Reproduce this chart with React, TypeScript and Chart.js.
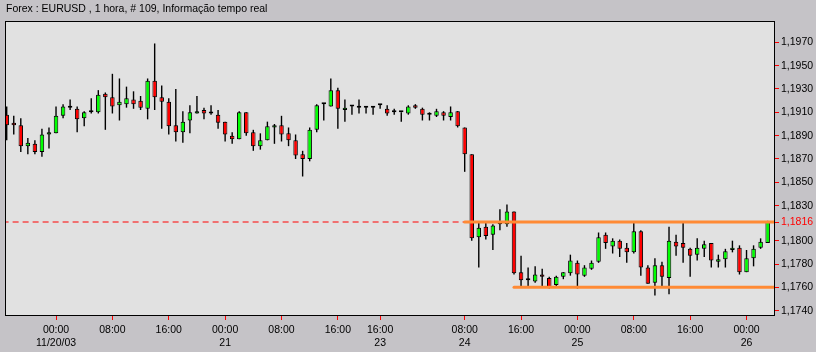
import React, { useEffect, useRef } from "react";
import { Chart, registerables } from "chart.js";

Chart.register(...registerables);

const TITLE = "Forex : EURUSD , 1 hora, # 109, Informação tempo real";

const OPEN = [
  1.1908, 1.1901, 1.1899, 1.1881, 1.1883, 1.1876, 1.1891, 1.1892, 1.1907, 1.1914,
  1.1913, 1.1905, 1.1910, 1.1910, 1.1926, 1.1923, 1.1916, 1.1917, 1.1921, 1.1920,
  1.1913, 1.1937, 1.1923, 1.1919, 1.1899, 1.1893, 1.1903, 1.1909, 1.1912, 1.1909,
  1.1908, 1.1902, 1.1890, 1.1887, 1.1910, 1.1893, 1.1881, 1.1886, 1.1897, 1.1899,
  1.1892, 1.1886, 1.1874, 1.1870, 1.1895, 1.1917, 1.1915, 1.1929, 1.1912, 1.1915,
  1.1914, 1.1915, 1.1915, 1.1916, 1.1913, 1.1910, 1.1910, 1.1909, 1.1916, 1.1913,
  1.1909, 1.1907, 1.1910, 1.1906, 1.1911, 1.1897, 1.1874, 1.1803, 1.1812, 1.1805,
  1.1814, 1.1814, 1.1825, 1.1773, 1.1766, 1.1765, 1.1771, 1.1768, 1.1762, 1.1769,
  1.1772, 1.1781, 1.1770, 1.1776, 1.1782, 1.1805, 1.1795, 1.1800, 1.1794, 1.1790,
  1.1808, 1.1777, 1.1764, 1.1779, 1.1768, 1.1799, 1.1798, 1.1793, 1.1788, 1.1793,
  1.1798, 1.1782, 1.1784, 1.1792, 1.1794, 1.1773, 1.1785, 1.1794, 1.1798,
];

const HIGH = [
  1.1915, 1.1907, 1.1905, 1.1888, 1.1886, 1.1896, 1.1897, 1.1915, 1.1917, 1.1921,
  1.1915, 1.1911, 1.1922, 1.1929, 1.1927, 1.1943, 1.1939, 1.1932, 1.1928, 1.1924,
  1.1939, 1.1969, 1.1933, 1.1922, 1.1930, 1.1911, 1.1916, 1.1924, 1.1914, 1.1916,
  1.1912, 1.1902, 1.1893, 1.1911, 1.1910, 1.1895, 1.1892, 1.1902, 1.1900, 1.1907,
  1.1897, 1.1891, 1.1877, 1.1897, 1.1917, 1.1918, 1.1939, 1.1931, 1.1921, 1.1916,
  1.1921, 1.1915, 1.1915, 1.1917, 1.1916, 1.1913, 1.1910, 1.1916, 1.1917, 1.1914,
  1.1910, 1.1913, 1.1911, 1.1915, 1.1911, 1.1897, 1.1874, 1.1816, 1.1816, 1.1814,
  1.1827, 1.1831, 1.1825, 1.1787, 1.1777, 1.1778, 1.1776, 1.1769, 1.1770, 1.1773,
  1.1788, 1.1783, 1.1779, 1.1783, 1.1807, 1.1807, 1.1802, 1.1801, 1.1798, 1.1816,
  1.1809, 1.1779, 1.1785, 1.1782, 1.1812, 1.1805, 1.1816, 1.1794, 1.1802, 1.1800,
  1.1798, 1.1788, 1.1793, 1.1800, 1.1796, 1.1792, 1.1796, 1.1802, 1.1817,
];

const LOW = [
  1.1886, 1.1891, 1.1876, 1.1874, 1.1874, 1.1872, 1.1879, 1.1892, 1.1905, 1.1912,
  1.1893, 1.1898, 1.1909, 1.1909, 1.1895, 1.1909, 1.1903, 1.1914, 1.1913, 1.1912,
  1.1904, 1.1912, 1.1896, 1.1891, 1.1885, 1.1884, 1.1892, 1.1909, 1.1904, 1.1908,
  1.1896, 1.1885, 1.1883, 1.1887, 1.1890, 1.1877, 1.1878, 1.1886, 1.1883, 1.1885,
  1.1881, 1.1870, 1.1855, 1.1868, 1.1893, 1.1903, 1.1915, 1.1896, 1.1902, 1.1908,
  1.1909, 1.1909, 1.1908, 1.1913, 1.1907, 1.1908, 1.1902, 1.1908, 1.1913, 1.1903,
  1.1903, 1.1906, 1.1903, 1.1903, 1.1897, 1.1859, 1.1800, 1.1777, 1.1801, 1.1792,
  1.1809, 1.1812, 1.1771, 1.1760, 1.1760, 1.1764, 1.1760, 1.1759, 1.1760, 1.1767,
  1.1770, 1.1759, 1.1769, 1.1775, 1.1781, 1.1793, 1.1789, 1.1786, 1.1781, 1.1789,
  1.1770, 1.1763, 1.1753, 1.1760, 1.1754, 1.1787, 1.1781, 1.1769, 1.1783, 1.1786,
  1.1777, 1.1777, 1.1777, 1.1790, 1.1771, 1.1773, 1.1778, 1.1793, 1.1798,
];

const CLOSE = [
  1.1899, 1.1899, 1.1881, 1.1884, 1.1876, 1.1891, 1.1893, 1.1907, 1.1915, 1.1915,
  1.1904, 1.1910, 1.1910, 1.1925, 1.1923, 1.1915, 1.1919, 1.1922, 1.1917, 1.1914,
  1.1937, 1.1923, 1.1919, 1.1898, 1.1893, 1.1902, 1.1910, 1.1911, 1.1909, 1.1909,
  1.1901, 1.1891, 1.1887, 1.1910, 1.1892, 1.1881, 1.1886, 1.1898, 1.1899, 1.1891,
  1.1886, 1.1873, 1.1870, 1.1895, 1.1916, 1.1917, 1.1929, 1.1913, 1.1914, 1.1915,
  1.1914, 1.1914, 1.1914, 1.1916, 1.1909, 1.1910, 1.1910, 1.1915, 1.1914, 1.1908,
  1.1908, 1.1911, 1.1907, 1.1910, 1.1898, 1.1874, 1.1802, 1.1811, 1.1804, 1.1813,
  1.1814, 1.1825, 1.1772, 1.1766, 1.1766, 1.1771, 1.1769, 1.1760, 1.1769, 1.1773,
  1.1783, 1.1771, 1.1777, 1.1781, 1.1803, 1.1798, 1.1800, 1.1793, 1.1790, 1.1808,
  1.1777, 1.1763, 1.1779, 1.1769, 1.1800, 1.1795, 1.1794, 1.1787, 1.1794, 1.1797,
  1.1783, 1.1784, 1.1791, 1.1794, 1.1773, 1.1785, 1.1793, 1.1799, 1.1816,
];

const X_TICK_INDEX = [7, 15, 23, 31, 39, 47, 53, 65, 73, 81, 89, 97, 105];
const X_TICK_TIME = ["00:00", "08:00", "16:00", "00:00", "08:00", "16:00", "16:00", "08:00", "16:00", "00:00", "08:00", "16:00", "00:00"];
const X_TICK_DATE = ["11/20/03", "", "", "21", "", "", "23", "24", "", "25", "", "", "26"];

const Y_TICKS = [1.174, 1.176, 1.178, 1.18, 1.183, 1.185, 1.187, 1.189, 1.191, 1.193, 1.195, 1.197];
const LAST_PRICE = 1.1816;
const RESISTANCE = 1.1816;
const RESISTANCE_FROM = 65;
const SUPPORT = 1.176;
const SUPPORT_FROM = 72;

const X_MIN = -0.1;
const X_MAX = 108.9;
const Y_MIN = 1.17363;
const Y_MAX = 1.19874;

const FONT = "'Liberation Sans', Arial, sans-serif";
const OUTER_BG = "#C5C3C7";
const PLOT_BG = "#E1E1E1";
const BULL = "#00FF00";
const BEAR = "#FF0000";
const ORANGE = "rgb(255,138,52)";

const framePlugin = {
  id: "framePlugin",
  beforeDraw(chart: any) {
    const { ctx, chartArea: a } = chart;
    ctx.save();
    ctx.fillStyle = OUTER_BG;
    ctx.fillRect(0, 0, chart.width, chart.height);
    ctx.fillStyle = PLOT_BG;
    ctx.fillRect(a.left, a.top, a.right - a.left, a.bottom - a.top);
    ctx.restore();
  },
  afterDraw(chart: any) {
    const { ctx, chartArea: a } = chart;
    ctx.save();
    ctx.strokeStyle = "#000";
    ctx.lineWidth = 1;
    ctx.strokeRect(a.left - 0.5, a.top - 0.5, a.right - a.left + 1, a.bottom - a.top + 1);
    ctx.restore();
  },
};

export default function App() {
  const ref = useRef<HTMLCanvasElement | null>(null);

  useEffect(() => {
    if (!ref.current) return;
    const n = OPEN.length;
    const idx = OPEN.map((_, i) => i);
    const bodies = idx.map((i) => ({ x: i, y: [Math.min(OPEN[i], CLOSE[i]), Math.max(OPEN[i], CLOSE[i])] }));
    const bodyColors = idx.map((i) => (CLOSE[i] >= OPEN[i] ? BULL : BEAR));
    const wicks = idx.map((i) => ({ x: i, y: [LOW[i], HIGH[i]] }));

    const chart = new Chart(ref.current, {
      type: "bar",
      data: {
        datasets: [
          {
            type: "line",
            data: [{ x: RESISTANCE_FROM, y: RESISTANCE }, { x: n + 2, y: RESISTANCE }],
            borderColor: ORANGE,
            borderWidth: 3,
            borderCapStyle: "round",
            pointRadius: 0,
            clip: 0,
          } as any,
          {
            type: "line",
            data: [{ x: SUPPORT_FROM, y: SUPPORT }, { x: n + 2, y: SUPPORT }],
            borderColor: ORANGE,
            borderWidth: 3,
            borderCapStyle: "round",
            pointRadius: 0,
            clip: 0,
          } as any,
          {
            data: bodies,
            backgroundColor: bodyColors,
            borderColor: "#000",
            borderWidth: 1,
            borderSkipped: false,
            barThickness: 4.5,
            minBarLength: 2,
            grouped: false,
            inflateAmount: 0,
            clip: 0,
          } as any,
          {
            data: wicks,
            backgroundColor: "#000",
            borderWidth: 0,
            barThickness: 1.4,
            grouped: false,
            inflateAmount: 0,
            clip: 0,
          } as any,
          {
            type: "line",
            data: [{ x: -2, y: LAST_PRICE }, { x: n + 2, y: LAST_PRICE }],
            borderColor: "#FF0000",
            borderWidth: 1,
            borderDash: [6, 4],
            pointRadius: 0,
            clip: 0,
          } as any,
        ],
      },
      options: {
        animation: false,
        responsive: false,
        devicePixelRatio: 1,
        layout: { padding: { left: 6, right: 0, top: 0, bottom: 0 } },
        plugins: {
          legend: { display: false },
          tooltip: { enabled: false },
          title: {
            display: true,
            text: TITLE,
            align: "start",
            color: "#000",
            font: { family: FONT, size: 10.5, weight: "normal", lineHeight: 1.2 },
            padding: { top: 2.5, bottom: 6.9 },
          },
        },
        scales: {
          x: {
            type: "linear",
            min: X_MIN,
            max: X_MAX,
            bounds: "data",
            offset: false,
            afterBuildTicks: (scale: any) => {
              scale.ticks = X_TICK_INDEX.map((v) => ({ value: v }));
            },
            afterFit: (scale: any) => {
              scale.height = 37;
            },
            ticks: {
              autoSkip: false,
              maxRotation: 0,
              minRotation: 0,
              padding: 4,
              color: "#000",
              font: { family: FONT, size: 10.5, lineHeight: 1.2 },
              callback: (_v: any, i: number) =>
                X_TICK_DATE[i] ? [X_TICK_TIME[i], X_TICK_DATE[i]] : X_TICK_TIME[i],
            },
            grid: {
              offset: false,
              drawOnChartArea: false,
              drawTicks: true,
              tickLength: 5,
              color: "#FF0000",
              lineWidth: 1,
            },
            border: { display: false },
          },
          y: {
            type: "linear",
            position: "right",
            min: Y_MIN,
            max: Y_MAX,
            bounds: "data",
            afterBuildTicks: (scale: any) => {
              scale.ticks = [...Y_TICKS, LAST_PRICE].sort((a, b) => a - b).map((v) => ({ value: v }));
            },
            afterFit: (scale: any) => {
              scale.width = 42;
            },
            ticks: {
              autoSkip: false,
              padding: 2,
              color: (ctx: any) => (Math.abs(ctx.tick.value - LAST_PRICE) < 1e-7 ? "#FF0000" : "#000"),
              font: { family: FONT, size: 10.5 },
              callback: (v: any) => Number(v).toFixed(4).replace(".", ","),
            },
            grid: {
              drawOnChartArea: false,
              drawTicks: true,
              tickLength: 5,
              color: "#FF0000",
              lineWidth: 1,
            },
            border: { display: false },
          },
        },
      } as any,
      plugins: [framePlugin],
    });
    return () => chart.destroy();
  }, []);

  return (
    <div style={{ position: "fixed", left: 0, top: 0, width: 816, height: 352 }}>
      <canvas ref={ref} width={816} height={352} style={{ display: "block" }} />
    </div>
  );
}
